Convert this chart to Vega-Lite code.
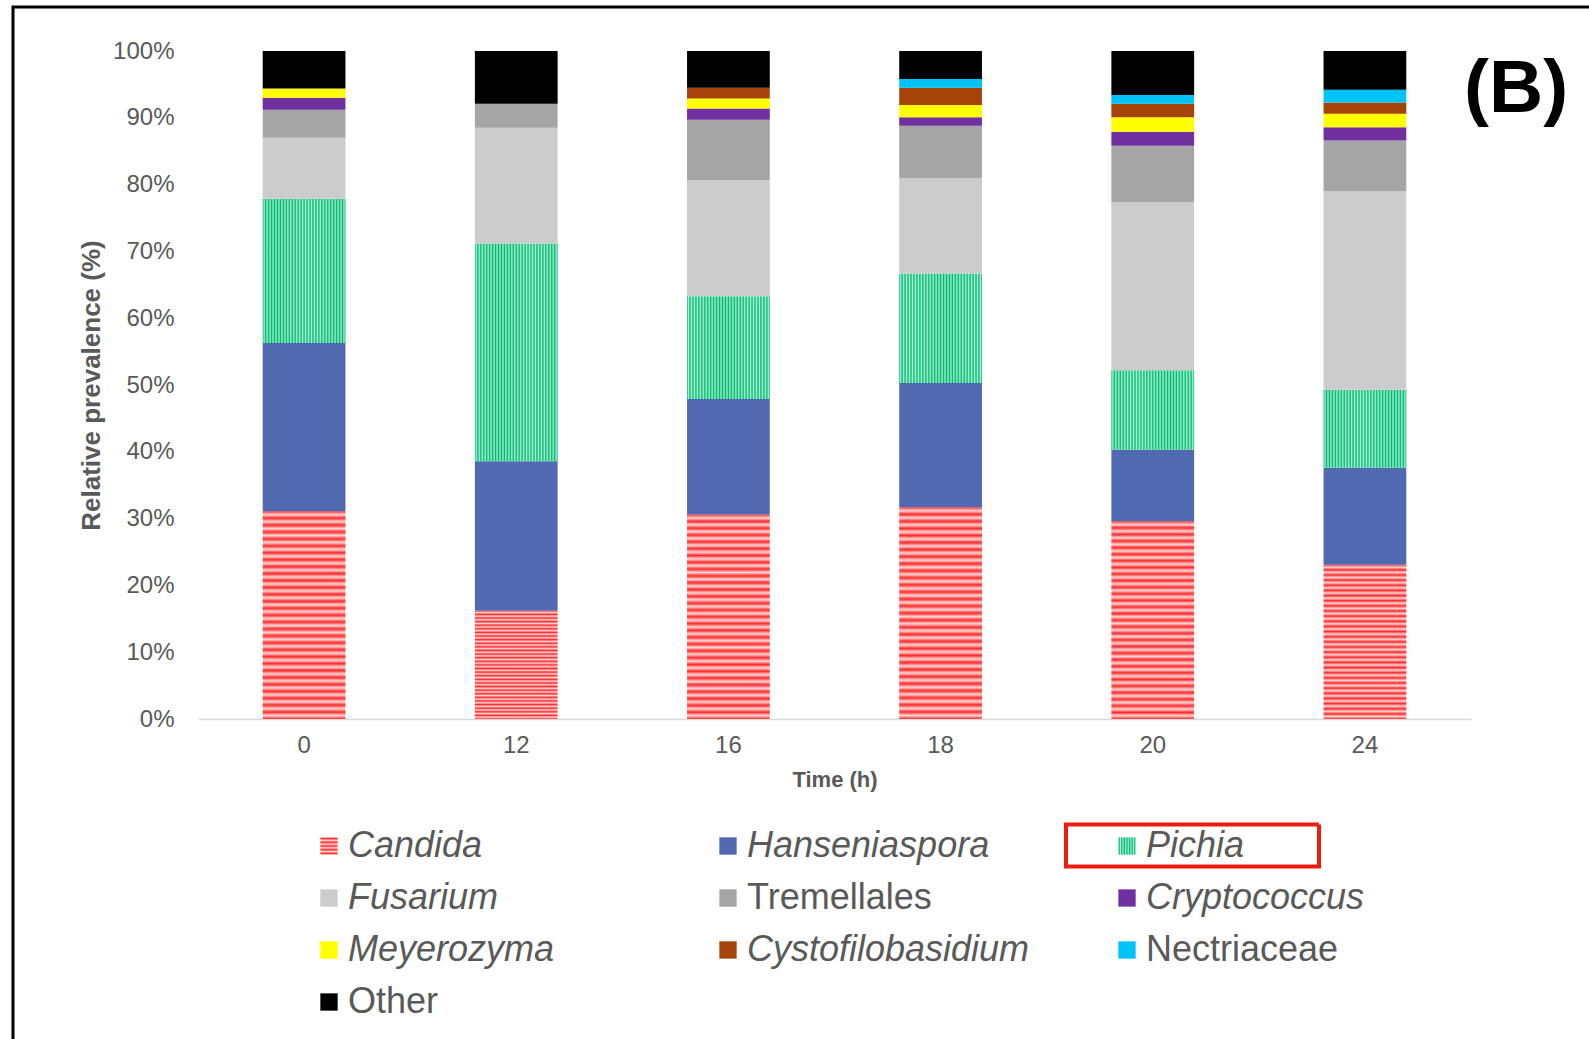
{
  "$schema": "https://vega.github.io/schema/vega-lite/v6.json",
  "autosize": {"type": "none"},
  "padding": {"left": 198, "top": 51, "right": 118, "bottom": 320},
  "width": 1273,
  "height": 668,
  "background": "white",
  "title": {
    "text": "(B)",
    "orient": "top",
    "anchor": "end",
    "frame": "group",
    "align": "left",
    "baseline": "alphabetic",
    "offset": 0,
    "dx": -7,
    "dy": 181,
    "font": "Liberation Sans",
    "fontSize": 75,
    "fontWeight": "bold",
    "color": "#000000"
  },
  "data": {
    "values": [
      {"time": 0, "taxon": "Candida", "rank": 1, "value": 31.1},
      {"time": 0, "taxon": "Hanseniaspora", "rank": 2, "value": 25.2},
      {"time": 0, "taxon": "Pichia", "rank": 3, "value": 21.6},
      {"time": 0, "taxon": "Fusarium", "rank": 4, "value": 9.1},
      {"time": 0, "taxon": "Tremellales", "rank": 5, "value": 4.2},
      {"time": 0, "taxon": "Cryptococcus", "rank": 6, "value": 1.8},
      {"time": 0, "taxon": "Meyerozyma", "rank": 7, "value": 1.4},
      {"time": 0, "taxon": "Other", "rank": 10, "value": 5.6},
      {"time": 12, "taxon": "Candida", "rank": 1, "value": 16.2},
      {"time": 12, "taxon": "Hanseniaspora", "rank": 2, "value": 22.4},
      {"time": 12, "taxon": "Pichia", "rank": 3, "value": 32.6},
      {"time": 12, "taxon": "Fusarium", "rank": 4, "value": 17.3},
      {"time": 12, "taxon": "Tremellales", "rank": 5, "value": 3.6},
      {"time": 12, "taxon": "Other", "rank": 10, "value": 7.9},
      {"time": 16, "taxon": "Candida", "rank": 1, "value": 30.6},
      {"time": 16, "taxon": "Hanseniaspora", "rank": 2, "value": 17.3},
      {"time": 16, "taxon": "Pichia", "rank": 3, "value": 15.4},
      {"time": 16, "taxon": "Fusarium", "rank": 4, "value": 17.4},
      {"time": 16, "taxon": "Tremellales", "rank": 5, "value": 9.0},
      {"time": 16, "taxon": "Cryptococcus", "rank": 6, "value": 1.7},
      {"time": 16, "taxon": "Meyerozyma", "rank": 7, "value": 1.5},
      {"time": 16, "taxon": "Cystofilobasidium", "rank": 8, "value": 1.6},
      {"time": 16, "taxon": "Other", "rank": 10, "value": 5.5},
      {"time": 18, "taxon": "Candida", "rank": 1, "value": 31.7},
      {"time": 18, "taxon": "Hanseniaspora", "rank": 2, "value": 18.6},
      {"time": 18, "taxon": "Pichia", "rank": 3, "value": 16.4},
      {"time": 18, "taxon": "Fusarium", "rank": 4, "value": 14.3},
      {"time": 18, "taxon": "Tremellales", "rank": 5, "value": 7.8},
      {"time": 18, "taxon": "Cryptococcus", "rank": 6, "value": 1.3},
      {"time": 18, "taxon": "Meyerozyma", "rank": 7, "value": 1.8},
      {"time": 18, "taxon": "Cystofilobasidium", "rank": 8, "value": 2.6},
      {"time": 18, "taxon": "Nectriaceae", "rank": 9, "value": 1.3},
      {"time": 18, "taxon": "Other", "rank": 10, "value": 4.2},
      {"time": 20, "taxon": "Candida", "rank": 1, "value": 29.6},
      {"time": 20, "taxon": "Hanseniaspora", "rank": 2, "value": 10.7},
      {"time": 20, "taxon": "Pichia", "rank": 3, "value": 11.9},
      {"time": 20, "taxon": "Fusarium", "rank": 4, "value": 25.2},
      {"time": 20, "taxon": "Tremellales", "rank": 5, "value": 8.4},
      {"time": 20, "taxon": "Cryptococcus", "rank": 6, "value": 2.1},
      {"time": 20, "taxon": "Meyerozyma", "rank": 7, "value": 2.2},
      {"time": 20, "taxon": "Cystofilobasidium", "rank": 8, "value": 2.0},
      {"time": 20, "taxon": "Nectriaceae", "rank": 9, "value": 1.3},
      {"time": 20, "taxon": "Other", "rank": 10, "value": 6.6},
      {"time": 24, "taxon": "Candida", "rank": 1, "value": 23.1},
      {"time": 24, "taxon": "Hanseniaspora", "rank": 2, "value": 14.5},
      {"time": 24, "taxon": "Pichia", "rank": 3, "value": 11.7},
      {"time": 24, "taxon": "Fusarium", "rank": 4, "value": 29.7},
      {"time": 24, "taxon": "Tremellales", "rank": 5, "value": 7.6},
      {"time": 24, "taxon": "Cryptococcus", "rank": 6, "value": 2.0},
      {"time": 24, "taxon": "Meyerozyma", "rank": 7, "value": 2.0},
      {"time": 24, "taxon": "Cystofilobasidium", "rank": 8, "value": 1.7},
      {"time": 24, "taxon": "Nectriaceae", "rank": 9, "value": 1.9},
      {"time": 24, "taxon": "Other", "rank": 10, "value": 5.8}
    ]
  },
  "mark": {"type": "bar"},
  "encoding": {
    "x": {
      "field": "time",
      "type": "ordinal",
      "scale": {"paddingInner": 0.61, "paddingOuter": 0.305},
      "axis": {
        "title": "Time (h)",
        "labelAngle": 0,
        "labelFont": "Liberation Sans",
        "labelFontSize": 24,
        "labelColor": "#595959",
        "labelPadding": 14,
        "ticks": false,
        "tickSize": 0,
        "domainColor": "#d9d9d9",
        "domainWidth": 1.5,
        "titleFont": "Liberation Sans",
        "titleFontSize": 22,
        "titleFontWeight": "bold",
        "titleColor": "#595959",
        "titlePadding": 12
      }
    },
    "y": {
      "field": "value",
      "type": "quantitative",
      "stack": true,
      "scale": {"domain": [0, 100], "nice": false},
      "axis": {
        "values": [0, 10, 20, 30, 40, 50, 60, 70, 80, 90, 100],
        "labelExpr": "datum.value + '%'",
        "domain": false,
        "ticks": false,
        "tickSize": 0,
        "grid": false,
        "labelPadding": 24,
        "labelFont": "Liberation Sans",
        "labelFontSize": 24,
        "labelColor": "#595959",
        "title": "Relative prevalence (%)",
        "titleFont": "Liberation Sans",
        "titleFontSize": 26,
        "titleFontWeight": "bold",
        "titleColor": "#595959",
        "titlePadding": 8
      }
    },
    "order": {"field": "rank", "type": "quantitative", "sort": "ascending"},
    "strokeDash": {
      "datum": "Pichia",
      "legend": {
        "title": null,
        "orient": "none",
        "legendX": 866,
        "legendY": 666,
        "padding": 0,
        "symbolType": "M-1,-0.166H1V0.166H-1Z",
        "symbolSize": 64009,
        "symbolOffset": 0,
        "symbolFillColor": "transparent",
        "symbolStrokeColor": "#ee1c0e",
        "symbolStrokeWidth": 4,
        "symbolOpacity": 1,
        "labelExpr": "''"
      }
    },
    "strokeWidth": {
      "datum": "border",
      "type": "nominal",
      "scale": {"range": [3, 3]},
      "legend": {
        "title": null,
        "orient": "none",
        "legendX": -186.5,
        "legendY": -45.5,
        "padding": 0,
        "symbolType": "M-1,1V-1H1",
        "symbolSize": 10240000,
        "symbolOffset": 0,
        "symbolFillColor": "transparent",
        "symbolStrokeColor": "#000000",
        "symbolOpacity": 1,
        "labelExpr": "''"
      }
    },
    "color": {
      "field": "taxon",
      "type": "nominal",
      "sort": ["Candida", "Hanseniaspora", "Pichia", "Fusarium", "Tremellales", "Cryptococcus", "Meyerozyma", "Cystofilobasidium", "Nectriaceae", "Other"],
      "scale": {
        "domain": ["Candida", "Hanseniaspora", "Pichia", "Fusarium", "Tremellales", "Cryptococcus", "Meyerozyma", "Cystofilobasidium", "Nectriaceae", "Other"],
        "range": [
          {"expr": "{gradient:'linear',x1:0,y1:0,x2:0,y2:1,stops:[{offset:0,color:'#ff2a2a'},{offset:0.0167,color:'#ffd6d6'},{offset:0.0333,color:'#ff2a2a'},{offset:0.05,color:'#ffd6d6'},{offset:0.0667,color:'#ff2a2a'},{offset:0.0833,color:'#ffd6d6'},{offset:0.1,color:'#ff2a2a'},{offset:0.1167,color:'#ffd6d6'},{offset:0.1333,color:'#ff2a2a'},{offset:0.15,color:'#ffd6d6'},{offset:0.1667,color:'#ff2a2a'},{offset:0.1833,color:'#ffd6d6'},{offset:0.2,color:'#ff2a2a'},{offset:0.2167,color:'#ffd6d6'},{offset:0.2333,color:'#ff2a2a'},{offset:0.25,color:'#ffd6d6'},{offset:0.2667,color:'#ff2a2a'},{offset:0.2833,color:'#ffd6d6'},{offset:0.3,color:'#ff2a2a'},{offset:0.3167,color:'#ffd6d6'},{offset:0.3333,color:'#ff2a2a'},{offset:0.35,color:'#ffd6d6'},{offset:0.3667,color:'#ff2a2a'},{offset:0.3833,color:'#ffd6d6'},{offset:0.4,color:'#ff2a2a'},{offset:0.4167,color:'#ffd6d6'},{offset:0.4333,color:'#ff2a2a'},{offset:0.45,color:'#ffd6d6'},{offset:0.4667,color:'#ff2a2a'},{offset:0.4833,color:'#ffd6d6'},{offset:0.5,color:'#ff2a2a'},{offset:0.5167,color:'#ffd6d6'},{offset:0.5333,color:'#ff2a2a'},{offset:0.55,color:'#ffd6d6'},{offset:0.5667,color:'#ff2a2a'},{offset:0.5833,color:'#ffd6d6'},{offset:0.6,color:'#ff2a2a'},{offset:0.6167,color:'#ffd6d6'},{offset:0.6333,color:'#ff2a2a'},{offset:0.65,color:'#ffd6d6'},{offset:0.6667,color:'#ff2a2a'},{offset:0.6833,color:'#ffd6d6'},{offset:0.7,color:'#ff2a2a'},{offset:0.7167,color:'#ffd6d6'},{offset:0.7333,color:'#ff2a2a'},{offset:0.75,color:'#ffd6d6'},{offset:0.7667,color:'#ff2a2a'},{offset:0.7833,color:'#ffd6d6'},{offset:0.8,color:'#ff2a2a'},{offset:0.8167,color:'#ffd6d6'},{offset:0.8333,color:'#ff2a2a'},{offset:0.85,color:'#ffd6d6'},{offset:0.8667,color:'#ff2a2a'},{offset:0.8833,color:'#ffd6d6'},{offset:0.9,color:'#ff2a2a'},{offset:0.9167,color:'#ffd6d6'},{offset:0.9333,color:'#ff2a2a'},{offset:0.95,color:'#ffd6d6'},{offset:0.9667,color:'#ff2a2a'},{offset:0.9833,color:'#ffd6d6'},{offset:1,color:'#ff2a2a'}]}"},
          "#5069b0",
          {"expr": "{gradient:'linear',x1:0,y1:0,x2:1,y2:0,stops:[{offset:0,color:'#00b86e'},{offset:0.0179,color:'#a8f0d4'},{offset:0.0357,color:'#00b86e'},{offset:0.0536,color:'#a8f0d4'},{offset:0.0714,color:'#00b86e'},{offset:0.0893,color:'#a8f0d4'},{offset:0.1071,color:'#00b86e'},{offset:0.125,color:'#a8f0d4'},{offset:0.1429,color:'#00b86e'},{offset:0.1607,color:'#a8f0d4'},{offset:0.1786,color:'#00b86e'},{offset:0.1964,color:'#a8f0d4'},{offset:0.2143,color:'#00b86e'},{offset:0.2321,color:'#a8f0d4'},{offset:0.25,color:'#00b86e'},{offset:0.2679,color:'#a8f0d4'},{offset:0.2857,color:'#00b86e'},{offset:0.3036,color:'#a8f0d4'},{offset:0.3214,color:'#00b86e'},{offset:0.3393,color:'#a8f0d4'},{offset:0.3571,color:'#00b86e'},{offset:0.375,color:'#a8f0d4'},{offset:0.3929,color:'#00b86e'},{offset:0.4107,color:'#a8f0d4'},{offset:0.4286,color:'#00b86e'},{offset:0.4464,color:'#a8f0d4'},{offset:0.4643,color:'#00b86e'},{offset:0.4821,color:'#a8f0d4'},{offset:0.5,color:'#00b86e'},{offset:0.5179,color:'#a8f0d4'},{offset:0.5357,color:'#00b86e'},{offset:0.5536,color:'#a8f0d4'},{offset:0.5714,color:'#00b86e'},{offset:0.5893,color:'#a8f0d4'},{offset:0.6071,color:'#00b86e'},{offset:0.625,color:'#a8f0d4'},{offset:0.6429,color:'#00b86e'},{offset:0.6607,color:'#a8f0d4'},{offset:0.6786,color:'#00b86e'},{offset:0.6964,color:'#a8f0d4'},{offset:0.7143,color:'#00b86e'},{offset:0.7321,color:'#a8f0d4'},{offset:0.75,color:'#00b86e'},{offset:0.7679,color:'#a8f0d4'},{offset:0.7857,color:'#00b86e'},{offset:0.8036,color:'#a8f0d4'},{offset:0.8214,color:'#00b86e'},{offset:0.8393,color:'#a8f0d4'},{offset:0.8571,color:'#00b86e'},{offset:0.875,color:'#a8f0d4'},{offset:0.8929,color:'#00b86e'},{offset:0.9107,color:'#a8f0d4'},{offset:0.9286,color:'#00b86e'},{offset:0.9464,color:'#a8f0d4'},{offset:0.9643,color:'#00b86e'},{offset:0.9821,color:'#a8f0d4'},{offset:1,color:'#00b86e'}]}"},
          "#cccccc",
          "#a5a5a5",
          "#7030a0",
          "#ffff00",
          "#a5430b",
          "#00c4f5",
          "#000000"
        ]
      },
      "legend": {
        "title": null,
        "orient": "none",
        "legendX": 113,
        "legendY": 777,
        "direction": "horizontal",
        "columns": 3,
        "gridAlign": "all",
        "columnPadding": 79,
        "rowPadding": 16,
        "padding": 0,
        "symbolType": "square",
        "symbolSize": 300,
        "symbolStrokeWidth": 0,
        "labelFont": "Liberation Sans",
        "labelFontSize": 36,
        "labelColor": "#595959",
        "labelOffset": 1,
        "labelLimit": 600,
        "encode": {
          "labels": {
            "update": {
              "fontStyle": {"signal": "indexof(['Tremellales','Nectriaceae','Other'], datum.label) >= 0 ? 'normal' : 'italic'"}
            }
          }
        }
      }
    }
  },
  "config": {
    "view": {"stroke": null}
  }
}
